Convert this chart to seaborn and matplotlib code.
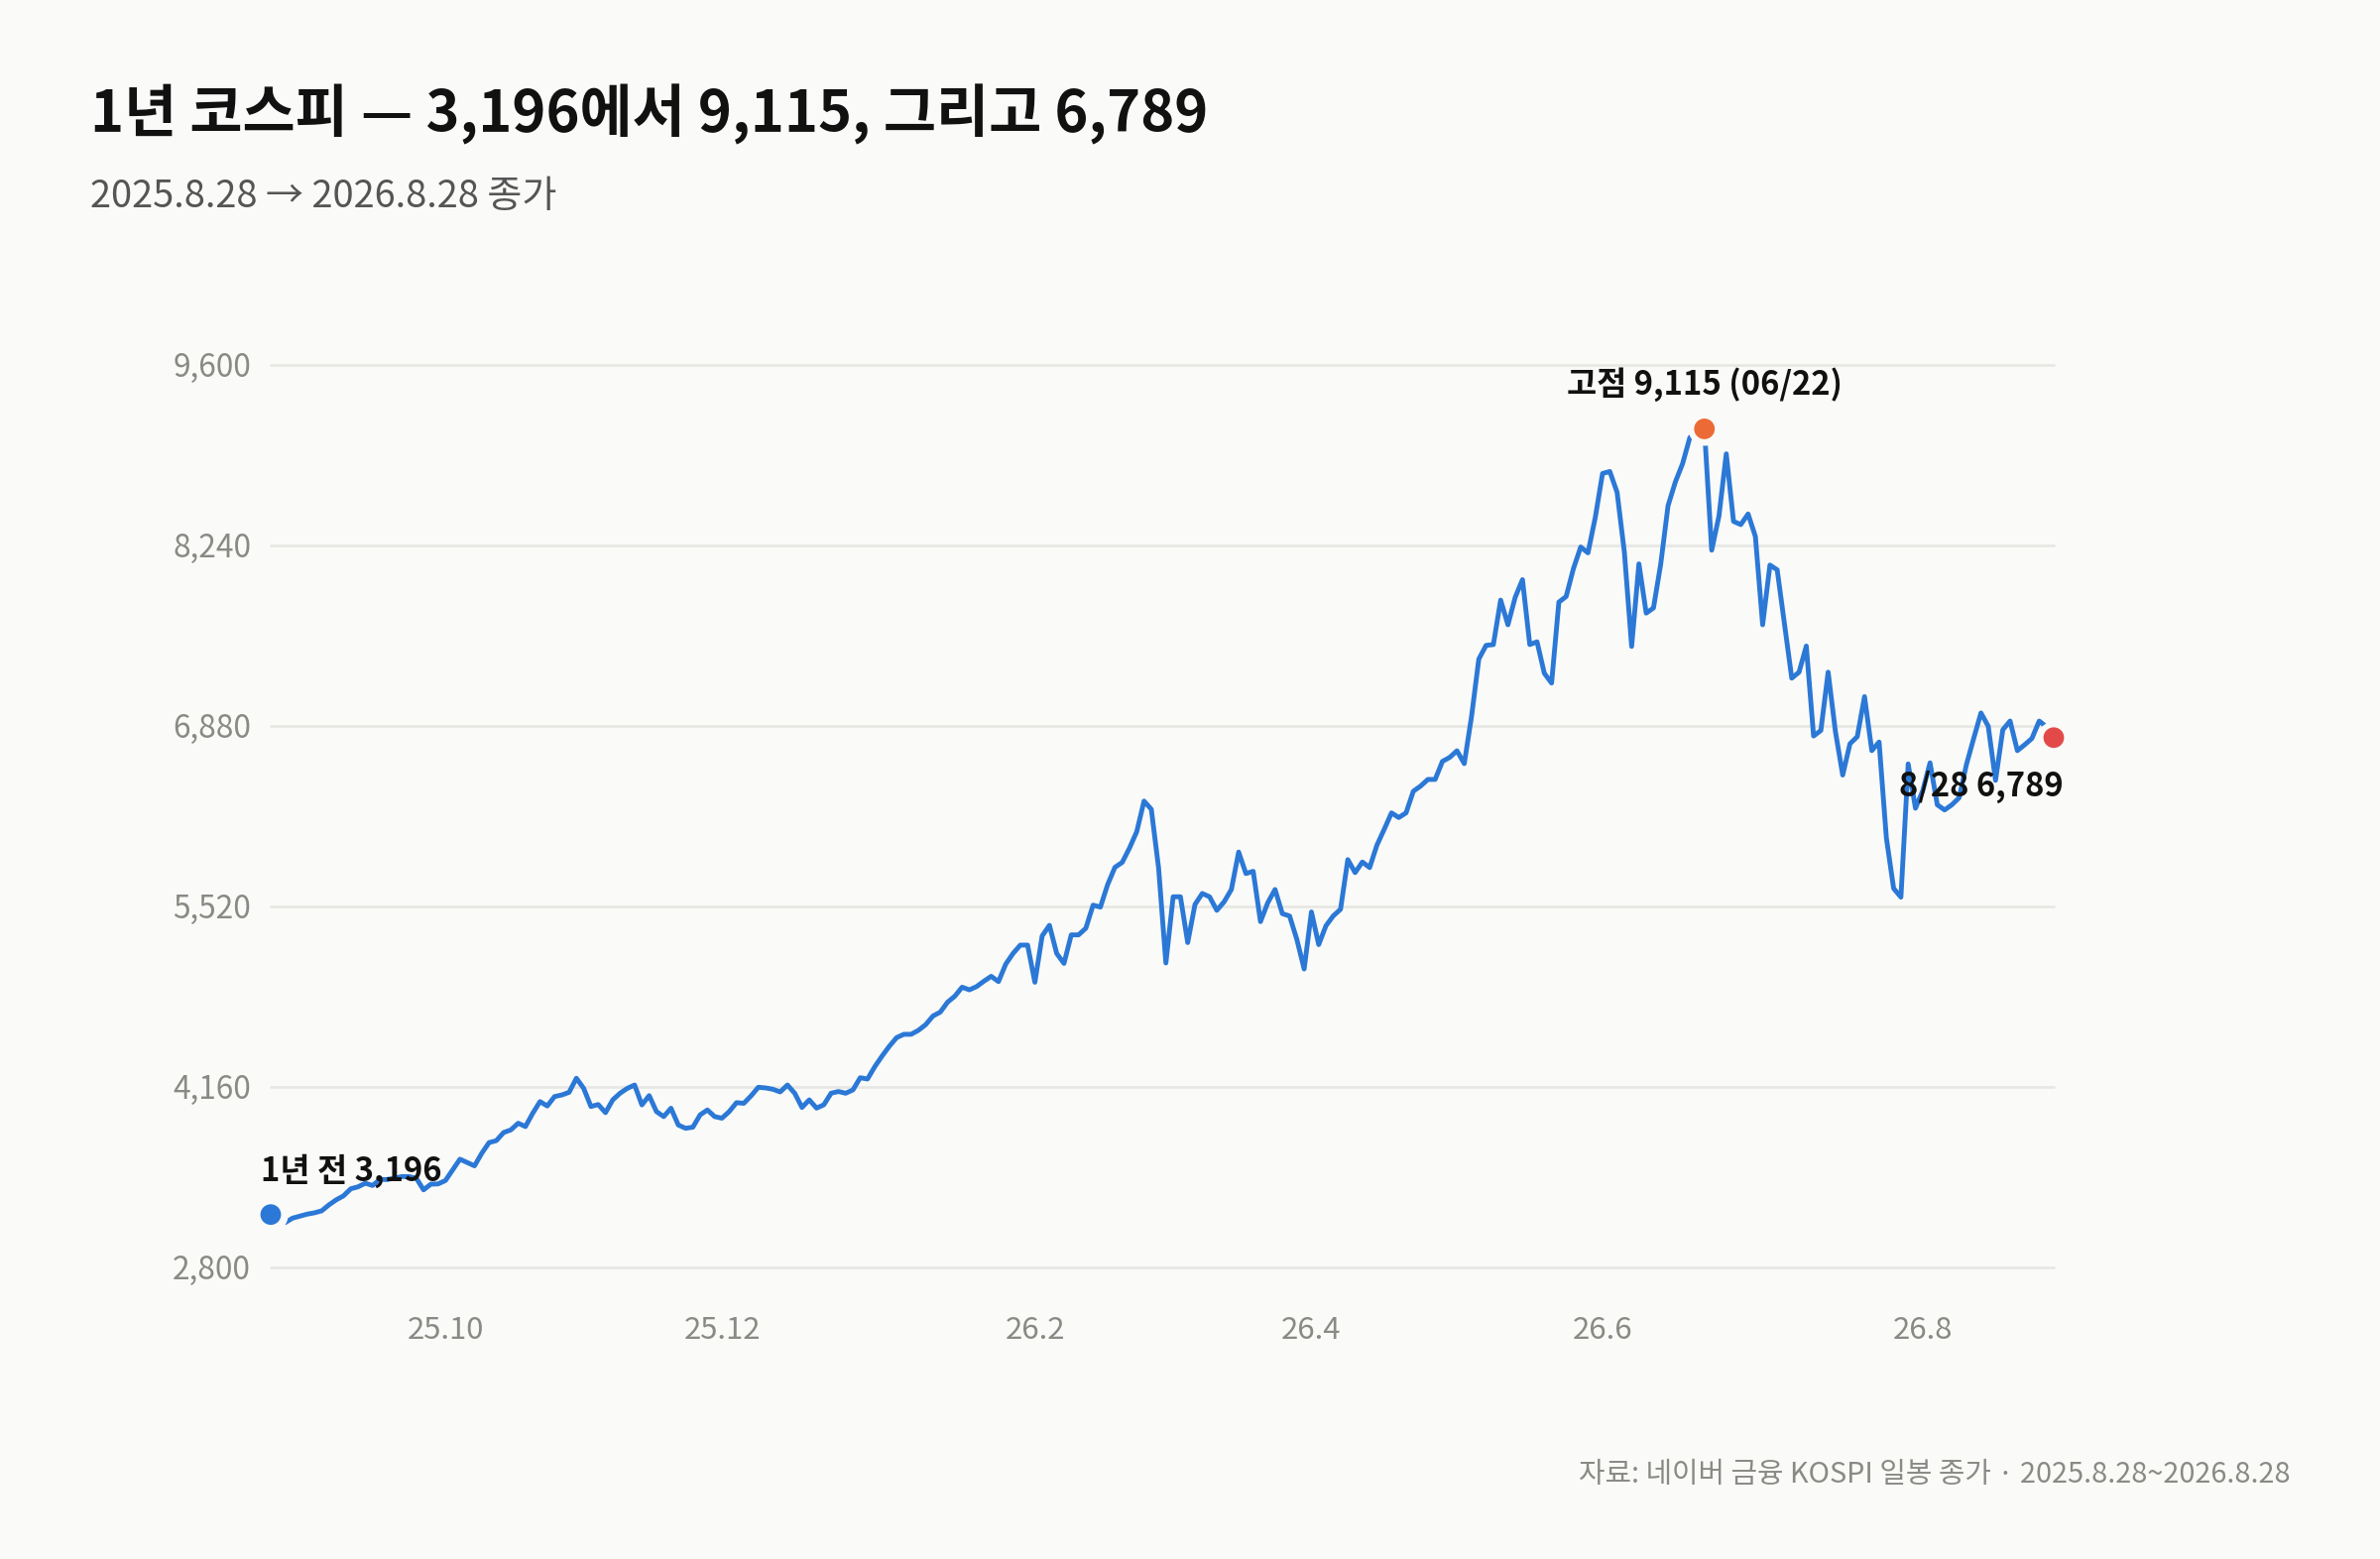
"""KOSPI one-year closing line: 3,196 -> 9,115 peak -> 6,789."""

import matplotlib

matplotlib.use("Agg")
import matplotlib.pyplot as plt
import numpy as np
import pandas as pd
import seaborn as sns
from matplotlib.ticker import FuncFormatter


BG = "#fafaf8"
LINE = "#2b78d6"
PEAK = "#ec6a36"
LAST = "#e24a4a"
GRID = "#e7e7e4"
MUTED = "#8a8a85"

# KRX closed days inside the window (weekdays only)
HOLIDAYS = [
    "2025-10-03", "2025-10-06", "2025-10-07", "2025-10-08", "2025-10-09",
    "2025-12-25", "2026-01-01", "2026-02-16", "2026-02-17", "2026-02-18",
    "2026-03-02", "2026-05-01", "2026-05-05", "2026-05-25", "2026-06-03",
    "2026-08-17",
]

# daily closes, in trading-day order
close_sep_nov = [
    3196, 3160, 3136, 3169, 3184, 3199, 3209, 3224, 3269, 3307, 3337, 3390,
    3405, 3432, 3415, 3460, 3460, 3470, 3482, 3482, 3470, 3382, 3425, 3427,
    3452, 3533, 3613, 3588, 3563, 3658, 3738, 3753, 3814, 3834, 3884, 3859,
    3959, 4047, 4014, 4085, 4097, 4117, 4223, 4147, 4010, 4025, 3964, 4060,
    4110, 4147, 4172, 4022, 4092, 3972, 3934, 3997, 3871, 3846, 3854, 3947,
    3984, 3934, 3922, 3972, 4039, 4034, 4090, 4155, 4150, 4140, 4120,
]
close_dec_mar = [
    4172, 4110, 4003, 4060, 3998, 4023, 4110, 4123, 4110, 4135, 4227, 4217,
    4310, 4390, 4464, 4529, 4554, 4554, 4584, 4627, 4692, 4721, 4796, 4841,
    4909, 4889, 4914, 4954, 4991, 4951, 5083, 5163, 5226, 5226, 4946, 5295,
    5375, 5163, 5088, 5303, 5303, 5353, 5527, 5512, 5682, 5812, 5849, 5957,
    6081, 6311, 6249, 5807, 5091, 5590, 5590, 5245, 5532, 5615, 5590, 5488,
    5552, 5645, 5927, 5765, 5782, 5403, 5545, 5645, 5463, 5445,
]
close_mar_jun = [
    5268, 5046, 5476, 5230, 5372, 5446, 5496, 5870, 5772, 5852, 5810, 5979,
    6098, 6222, 6187, 6222, 6385, 6424, 6474, 6474, 6610, 6640, 6690, 6593,
    6948, 7381, 7484, 7490, 7825, 7639, 7846, 7979, 7490, 7511, 7274, 7200,
    7810, 7852, 8062, 8225, 8181, 8447, 8779, 8794, 8637, 8187, 7476, 8098,
    7727, 7766, 8098, 8536, 8714, 8853, 9050, 9095, 9115,
]
close_jun_aug = [
    8201, 8459, 8927, 8418, 8394, 8474, 8305, 7639, 8089, 8053, 7645, 7237,
    7282, 7479, 6801, 6843, 7282, 6835, 6507, 6743, 6796, 7098, 6691, 6756,
    6034, 5653, 5587, 6591, 6257, 6389, 6599, 6283, 6244, 6283, 6336, 6586,
    6783, 6975, 6875, 6467, 6848, 6914, 6691, 6735, 6783, 6914, 6870, 6789,
]

Y_TICKS = [2800, 4160, 5520, 6880, 8240, 9600]
X_TICK_MONTHS = ["2025-10-01", "2025-12-01", "2026-02-01", "2026-04-01", "2026-06-01", "2026-08-01"]
X_TICK_LABELS = ["25.10", "25.12", "26.2", "26.4", "26.6", "26.8"]

TITLE = "1년 코스피 — 3,196에서 9,115, 그리고 6,789"
SUBTITLE = "2025.8.28 → 2026.8.28 종가"
FOOTER = "자료: 네이버 금융 KOSPI 일봉 종가 · 2025.8.28~2026.8.28"
START_LABEL = "1년 전 3,196"
PEAK_LABEL = "고점 9,115 (06/22)"
LAST_LABEL = "8/28 6,789"


def main() -> None:
    sns.set_theme(style="white")
    plt.rcParams["font.family"] = ["Noto Sans CJK KR", "DejaVu Sans"]

    days = pd.bdate_range("2025-08-28", "2026-08-28").difference(pd.to_datetime(HOLIDAYS))
    closes = close_sep_nov + close_dec_mar + close_mar_jun + close_jun_aug
    df = pd.DataFrame({"date": days, "close": closes})
    df["pos"] = np.arange(len(df))

    fig = plt.figure(figsize=(12, 7.86), dpi=200, facecolor=BG)
    ax = fig.add_axes([0.11375, 0.18722, 0.74917, 0.57898])
    ax.set_facecolor(BG)

    sns.lineplot(data=df, x="pos", y="close", color=LINE, linewidth=1.75, ax=ax, zorder=3)
    ax.lines[0].set_solid_joinstyle("round")

    peak_i = int(df["close"].idxmax())
    marks = df.iloc[[0, peak_i, len(df) - 1]].copy()
    marks["color"] = [LINE, PEAK, LAST]
    # background halo so the line stops short of each marker
    ax.scatter(marks["pos"], marks["close"], s=150, color=BG, linewidths=0, zorder=4, clip_on=False)
    sns.scatterplot(
        data=marks, x="pos", y="close", hue="color", palette={c: c for c in marks["color"]},
        s=56, linewidth=0, legend=False, ax=ax, zorder=5, clip_on=False,
    )

    first, peak, last = marks.iloc[0], marks.iloc[1], marks.iloc[2]
    label_kw = dict(textcoords="offset points", fontsize=11.8, fontweight="bold", color="#111111", va="center")
    ax.annotate(START_LABEL, (first["pos"], first["close"]), xytext=(-3.6, 15.8), ha="left", **label_kw)
    ax.annotate(PEAK_LABEL, (peak["pos"], peak["close"]), xytext=(0, 16.0), ha="center", **label_kw)
    ax.annotate(LAST_LABEL, (last["pos"], last["close"]), xytext=(3.4, -18.0), ha="right", **label_kw)

    ax.set_xlim(0, len(df) - 1)
    ax.set_ylim(Y_TICKS[0], Y_TICKS[-1])
    ax.set_yticks(Y_TICKS)
    ax.yaxis.set_major_formatter(FuncFormatter(lambda v, _: f"{v:,.0f}"))
    ax.set_xticks(days.searchsorted(pd.to_datetime(X_TICK_MONTHS)))
    ax.set_xticklabels(X_TICK_LABELS)
    ax.tick_params(axis="y", length=0, pad=7.2, labelsize=11.4, labelcolor=MUTED)
    ax.tick_params(axis="x", length=0, pad=17.5, labelsize=11.2, labelcolor=MUTED)
    ax.set_xlabel("")
    ax.set_ylabel("")
    ax.grid(axis="y", color=GRID, linewidth=1.0)
    ax.grid(axis="x", visible=False)
    for line in ax.get_ygridlines():
        line.set_clip_on(False)
    ax.set_axisbelow(True)
    sns.despine(ax=ax, left=True, bottom=True)

    fig.text(91 / 2400, 1 - 115 / 1572, TITLE, fontsize=20.8, fontweight="heavy", color="#111111", va="center")
    fig.text(91 / 2400, 1 - 199 / 1572, SUBTITLE, fontsize=13.7, color="#555555", va="center")
    fig.text(2310 / 2400, 1 - 1487 / 1572, FOOTER, fontsize=10.4, color=MUTED, ha="right", va="center")

    fig.savefig("out.png", dpi=200, facecolor=BG)
    plt.close(fig)


if __name__ == "__main__":
    main()
